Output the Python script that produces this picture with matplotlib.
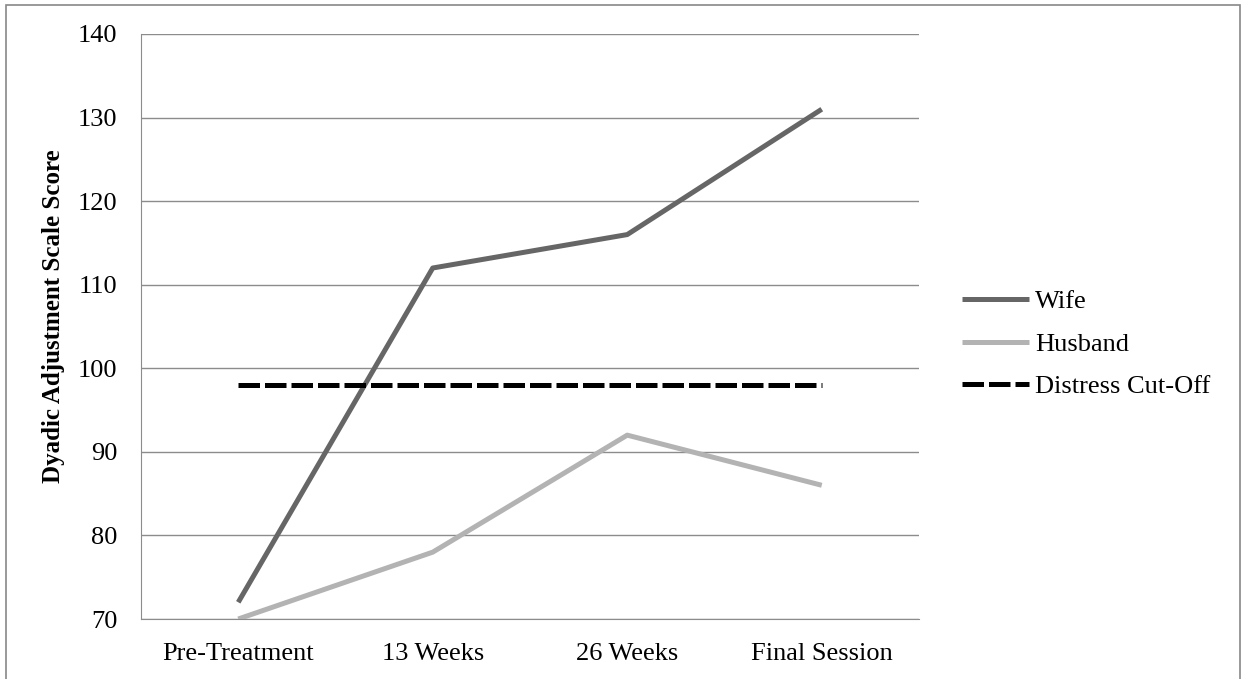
import matplotlib.pyplot as plt
from matplotlib.patches import Rectangle

# Scores at each assessment point
timepoints = ["Pre-Treatment", "13 Weeks", "26 Weeks", "Final Session"]
wife = [72, 112, 116, 131]
husband = [70, 78, 92, 86]
cutoff = [98, 98, 98, 98]

plt.rcParams["font.family"] = ["Liberation Serif", "DejaVu Serif"]

W, H = 1243, 679
fig = plt.figure(figsize=(W / 100, H / 100), dpi=100)
ax = fig.add_axes([141 / W, 60 / H, 778 / W, 585 / H])

x = range(len(timepoints))
ax.plot(x, wife, color="#666666", lw=3.6, solid_capstyle="butt", label="Wife", zorder=3)
ax.plot(x, husband, color="#b3b3b3", lw=3.6, solid_capstyle="butt", label="Husband", zorder=3)
ax.plot(x, cutoff, color="black", lw=3.6, ls=(0, (4.3, 1.0)), dash_capstyle="butt",
        label="Distress Cut-Off", zorder=3)

ax.set_xlim(-0.5, len(timepoints) - 0.5)
ax.set_ylim(70, 140)
ax.set_yticks(range(70, 141, 10))
ax.set_xticks(list(x))
ax.set_xticklabels(timepoints)
ax.tick_params(axis="both", length=0, labelsize=19)
ax.tick_params(axis="x", pad=17.5)
ax.tick_params(axis="y", pad=17)
ax.yaxis.grid(True, color="#8c8c8c", lw=1.0)
ax.set_axisbelow(True)
for side in ["top", "right"]:
    ax.spines[side].set_visible(False)
ax.spines["left"].set_color("#8c8c8c")
ax.spines["bottom"].set_color("#8c8c8c")

ax.set_ylabel("Dyadic Adjustment Scale Score", fontsize=18, fontweight="bold")
ax.yaxis.set_label_coords(-0.0977, 0.517)

ax.legend(loc="center left", bbox_to_anchor=(962 / W, 1 - 344 / H),
          bbox_transform=fig.transFigure, frameon=False, borderpad=0, borderaxespad=0,
          fontsize=19, handlelength=2.55, handletextpad=0.22, labelspacing=0.73)

# outer chart frame
fig.add_artist(Rectangle((6 / W, -0.01), 1234 / W, 1 - 5 / H + 0.01,
                         transform=fig.transFigure, fill=False,
                         edgecolor="#888888", lw=1.2))

fig.savefig("out.png", dpi=100)
